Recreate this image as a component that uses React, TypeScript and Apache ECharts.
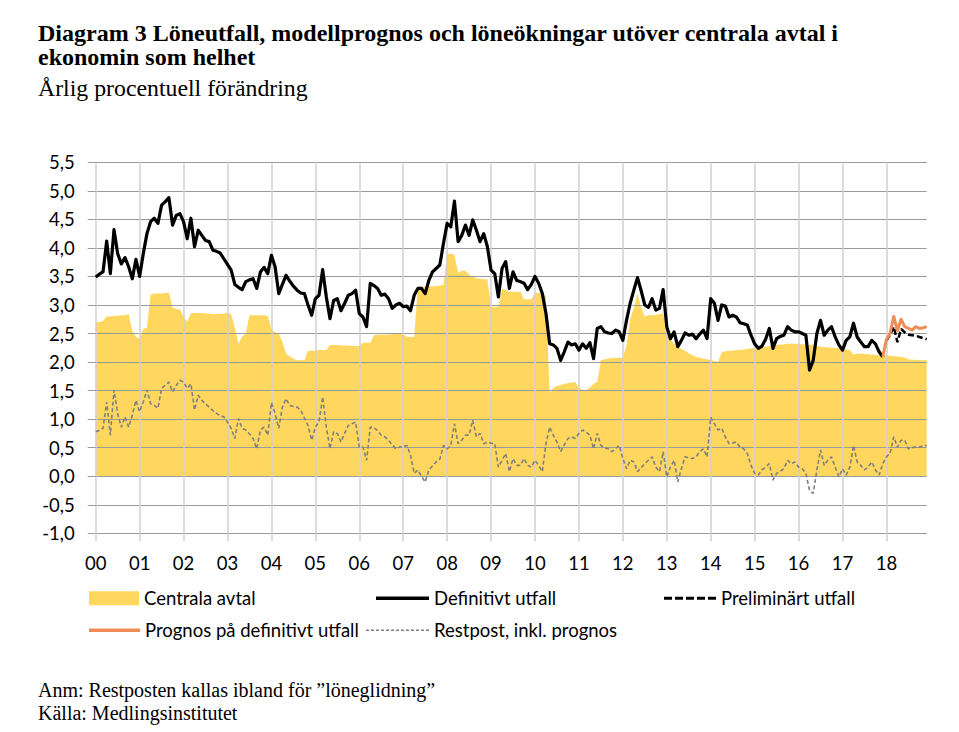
import React, { useEffect, useRef } from "react";
import * as echarts from "echarts";

// Monthly categories Jan 2000 .. Dec 2018
const firstYear = 2000;
const lastYear = 2018;
const months: string[] = [];
for (let y = firstYear; y <= lastYear; y++) {
  for (let m = 1; m <= 12; m++) months.push(`${y}-${m < 10 ? "0" + m : m}`);
}

const yearTickLabels = ["00", "01", "02", "03", "04", "05", "06", "07", "08", "09", "10", "11", "12", "13", "14", "15", "16", "17", "18"];

// Centrala avtal (yellow area), Jan 2000 - Dec 2018
const centralaAvtal = [
  2.70, 2.70, 2.72, 2.80, 2.80, 2.81, 2.81, 2.82, 2.82, 2.84, 2.55, 2.45,
  2.40, 2.58, 2.60, 3.18, 3.20, 3.20, 3.20, 3.21, 3.22, 2.95, 2.93, 2.92,
  2.80, 2.70, 2.86, 2.86, 2.86, 2.86, 2.85, 2.85, 2.84, 2.84, 2.84, 2.85,
  2.86, 2.84, 2.60, 2.32, 2.45, 2.50, 2.82, 2.82, 2.82, 2.82, 2.82, 2.81,
  2.58, 2.52, 2.50, 2.35, 2.15, 2.10, 2.06, 2.03, 2.03, 2.03, 2.20, 2.20,
  2.20, 2.21, 2.21, 2.21, 2.30, 2.30, 2.30, 2.29, 2.29, 2.29, 2.28, 2.28,
  2.28, 2.34, 2.34, 2.34, 2.47, 2.48, 2.48, 2.48, 2.48, 2.49, 2.49, 2.49,
  2.49, 2.44, 2.44, 2.44, 3.32, 3.32, 3.32, 3.33, 3.33, 3.33, 3.34, 3.35,
  3.88, 3.90, 3.88, 3.56, 3.60, 3.60, 3.53, 3.50, 3.47, 3.46, 3.45, 3.45,
  2.97, 2.97, 2.97, 3.29, 3.26, 3.23, 3.23, 3.23, 3.23, 3.10, 3.10, 3.10,
  3.21, 3.21, 3.21, 3.15, 1.45, 1.55, 1.58, 1.60, 1.62, 1.63, 1.64, 1.65,
  1.55, 1.51, 1.51, 1.55, 1.62, 1.65, 2.03, 2.05, 2.06, 2.07, 2.07, 2.08,
  2.07, 2.30, 2.75, 2.95, 3.20, 2.95, 2.80, 2.82, 2.82, 2.83, 2.84, 2.85,
  2.58, 2.40, 2.32, 2.27, 2.23, 2.20, 2.15, 2.12, 2.09, 2.08, 2.06, 2.05,
  2.03, 2.02, 2.00, 2.17, 2.19, 2.20, 2.20, 2.21, 2.21, 2.22, 2.23, 2.24,
  2.24, 2.25, 2.26, 2.27, 2.28, 2.29, 2.30, 2.31, 2.31, 2.32, 2.32, 2.32,
  2.32, 2.31, 2.31, 2.30, 2.30, 2.28, 2.27, 2.26, 2.26, 2.25, 2.25, 2.24,
  2.23, 2.22, 2.21, 2.13, 2.15, 2.15, 2.14, 2.14, 2.13, 2.13, 2.12, 2.12,
  2.12, 2.11, 2.10, 2.10, 2.09, 2.08, 2.05, 2.04, 2.04, 2.03, 2.03, 2.03,
];

// Definitivt utfall, Jan 2000 - Dec 2017
const definitivtUtfall = [
  3.49, 3.54, 3.58, 4.12, 3.55, 4.32, 3.90, 3.72, 3.83, 3.67, 3.46, 3.80,
  3.50, 3.90, 4.25, 4.46, 4.52, 4.43, 4.75, 4.81, 4.88, 4.40, 4.57, 4.60,
  4.46, 4.16, 4.52, 4.02, 4.31, 4.22, 4.13, 4.11, 3.96, 3.94, 3.91, 3.81,
  3.71, 3.61, 3.36, 3.31, 3.27, 3.41, 3.44, 3.46, 3.29, 3.58, 3.66, 3.55,
  3.87, 3.67, 3.20, 3.36, 3.52, 3.42, 3.33, 3.26, 3.21, 3.20, 3.00, 2.82,
  3.11, 3.17, 3.62, 3.14, 2.76, 3.08, 3.11, 2.90, 3.03, 3.17, 3.20, 3.26,
  2.85, 2.79, 2.62, 3.38, 3.34, 3.29, 3.17, 3.19, 3.11, 2.94, 3.00, 3.03,
  2.97, 2.98, 2.90, 3.17, 3.29, 3.29, 3.20, 3.43, 3.58, 3.64, 3.70, 4.08,
  4.43, 4.37, 4.82, 4.11, 4.22, 4.40, 4.22, 4.49, 4.31, 4.11, 4.25, 4.02,
  3.61, 3.55, 3.14, 3.64, 3.76, 3.29, 3.58, 3.43, 3.41, 3.38, 3.27, 3.36,
  3.50, 3.38, 3.20, 2.85, 2.32, 2.30, 2.24, 2.03, 2.18, 2.35, 2.30, 2.32,
  2.21, 2.32, 2.24, 2.34, 2.06, 2.59, 2.62, 2.53, 2.51, 2.50, 2.56, 2.53,
  2.38, 2.73, 3.03, 3.26, 3.48, 3.25, 3.00, 2.96, 3.11, 2.91, 2.94, 3.27,
  2.62, 2.41, 2.53, 2.27, 2.38, 2.51, 2.47, 2.49, 2.41, 2.49, 2.56, 2.41,
  3.11, 3.03, 2.73, 3.00, 2.98, 2.79, 2.82, 2.79, 2.69, 2.67, 2.65, 2.47,
  2.32, 2.24, 2.28, 2.40, 2.59, 2.24, 2.41, 2.45, 2.47, 2.62, 2.56, 2.53,
  2.53, 2.50, 2.47, 1.86, 2.03, 2.50, 2.73, 2.47, 2.56, 2.62, 2.44, 2.30,
  2.21, 2.38, 2.44, 2.68, 2.44, 2.35, 2.27, 2.27, 2.38, 2.32, 2.18, 2.09,
];

// Preliminärt utfall, Jan 2018 - Dec 2018
const preliminartStart = "2018-01";
const preliminartUtfall = [2.38, 2.48, 2.62, 2.35, 2.58, 2.52, 2.48, 2.47, 2.46, 2.44, 2.42, 2.40];

// Prognos på definitivt utfall, Dec 2017 - Dec 2018
const prognosStart = "2017-12";
const prognosDefinitivt = [2.09, 2.40, 2.50, 2.80, 2.55, 2.75, 2.62, 2.59, 2.56, 2.62, 2.59, 2.60, 2.62];

// Restpost, inkl. prognos, Jan 2000 - Dec 2018
const restpost = [
  0.78, 0.80, 0.84, 1.30, 0.72, 1.51, 1.10, 0.86, 1.04, 0.86, 1.07, 1.33,
  1.13, 1.30, 1.51, 1.27, 1.24, 1.19, 1.54, 1.59, 1.65, 1.48, 1.59, 1.68,
  1.65, 1.54, 1.62, 1.16, 1.42, 1.33, 1.27, 1.21, 1.15, 1.10, 1.06, 1.04,
  0.95, 0.84, 0.66, 1.01, 0.84, 0.81, 0.74, 0.66, 0.48, 0.81, 0.86, 0.72,
  1.29, 1.10, 0.84, 1.21, 1.36, 1.24, 1.22, 1.21, 1.16, 1.02, 0.89, 0.63,
  0.86, 0.95, 1.39, 0.86, 0.48, 0.78, 0.75, 0.60, 0.75, 0.89, 0.92, 0.95,
  0.51, 0.51, 0.28, 0.86, 0.85, 0.80, 0.72, 0.69, 0.63, 0.55, 0.48, 0.51,
  0.52, 0.54, 0.37, 0.05, 0.11, 0.00, -0.10, 0.11, 0.18, 0.25, 0.30, 0.54,
  0.48, 0.54, 0.92, 0.57, 0.63, 0.72, 0.72, 0.98, 0.69, 0.75, 0.57, 0.60,
  0.58, 0.57, 0.16, 0.28, 0.40, 0.08, 0.31, 0.19, 0.19, 0.31, 0.19, 0.16,
  0.28, 0.19, 0.08, 0.57, 0.86, 0.72, 0.60, 0.43, 0.55, 0.66, 0.69, 0.66,
  0.75, 0.81, 0.77, 0.72, 0.48, 0.75, 0.54, 0.50, 0.48, 0.43, 0.48, 0.54,
  0.31, 0.13, 0.28, 0.25, 0.08, 0.15, 0.22, 0.28, 0.34, 0.16, 0.08, 0.43,
  -0.01, 0.16, 0.28, -0.10, 0.13, 0.34, 0.32, 0.31, 0.34, 0.43, 0.48, 0.34,
  1.03, 0.92, 0.81, 0.84, 0.69, 0.57, 0.58, 0.60, 0.51, 0.48, 0.40, 0.19,
  0.05, 0.02, 0.11, 0.16, 0.22, -0.07, 0.05, 0.09, 0.13, 0.28, 0.22, 0.25,
  0.16, 0.13, 0.05, -0.25, -0.30, 0.11, 0.46, 0.19, 0.28, 0.34, 0.16, -0.01,
  0.13, 0.02, 0.16, 0.54, 0.25, 0.19, 0.11, 0.16, 0.25, 0.11, 0.02, 0.22,
  0.34, 0.40, 0.69, 0.51, 0.63, 0.63, 0.48, 0.50, 0.51, 0.51, 0.53, 0.54,
];

const titleText = "Diagram 3 Löneutfall, modellprognos och löneökningar utöver centrala avtal i\nekonomin som helhet";
const subtitleText = "Årlig procentuell förändring";
const noteText = "Anm: Restposten kallas ibland för ”löneglidning”\nKälla: Medlingsinstitutet";

const YELLOW = "#FFD75E";
const ORANGE = "#EF8C57";
const GRAY_DASH = "#7F7F7F";
const SANS = "Lato, 'Open Sans', sans-serif";
const SERIF = "'Liberation Serif', 'Times New Roman', serif";

function placeAt(values: number[], startKey: string): (number | null)[] {
  const start = months.indexOf(startKey);
  return months.map((_, i) => (i >= start && i - start < values.length ? values[i - start] : null));
}

// legend icon made of dashes (width x height), as an svg path
function dashIcon(count: number, dash: number, gap: number, h: number): string {
  let d = "path://";
  for (let k = 0; k < count; k++) {
    const x = k * (dash + gap);
    d += `M${x},0h${dash}v${h}h${-dash}z `;
  }
  return d.trim();
}

export default function App() {
  const ref = useRef<HTMLDivElement>(null);

  useEffect(() => {
    if (!ref.current) return;
    const chart = echarts.init(ref.current, null, { renderer: "svg" });
    const isYearStart = (i: number) => i % 12 === 0;
    const FS = 18.5;
    const legendText = { fontFamily: SANS, fontSize: FS, color: "#000" };
    const row1 = 598 - FS / 2;
    const row2 = 630 - FS / 2;
    const common = { padding: 0, selectedMode: false, textStyle: legendText, itemStyle: { borderWidth: 0 } };

    chart.setOption({
      animation: false,
      backgroundColor: "#fff",
      title: [
        {
          text: titleText,
          left: 38,
          top: 21,
          padding: 0,
          textStyle: { fontFamily: SERIF, fontWeight: "bold", fontSize: 24, lineHeight: 24, color: "#000" },
        },
        {
          text: subtitleText,
          left: 38,
          top: 76,
          padding: 0,
          textStyle: { fontFamily: SERIF, fontWeight: "normal", fontSize: 23.8, lineHeight: 24, color: "#000" },
        },
        {
          text: noteText,
          left: 38,
          top: 678.5,
          padding: 0,
          textStyle: { fontFamily: SERIF, fontWeight: "normal", fontSize: 20, lineHeight: 23, color: "#000" },
        },
      ],
      legend: [
        { ...common, data: [{ name: "Centrala avtal", icon: "rect" }], left: 89, top: row1, itemWidth: 50, itemHeight: 14 },
        { ...common, data: [{ name: "Definitivt utfall", icon: "rect" }], left: 376, top: row1, itemWidth: 53, itemHeight: 3.3 },
        { ...common, data: [{ name: "Preliminärt utfall", icon: dashIcon(5, 8, 3, 3) }], left: 664, top: row1, itemWidth: 52, itemHeight: 3 },
        { ...common, data: [{ name: "Prognos på definitivt utfall", icon: "rect" }], left: 89, top: row2, itemWidth: 51, itemHeight: 3.5 },
        { ...common, data: [{ name: "Restpost, inkl. prognos", icon: dashIcon(13, 3, 2, 1.5) }], left: 366, top: row2, itemWidth: 63, itemHeight: 1.5 },
      ],
      grid: { left: 95.7, right: 32.3, top: 162.3, bottom: 198.7, containLabel: false },
      xAxis: {
        type: "category",
        data: months,
        boundaryGap: false,
        z: 3,
        axisLine: { show: false, onZero: false },
        axisTick: { show: true, interval: (i: number) => isYearStart(i), length: 8, lineStyle: { color: "#d0d0d0", width: 1.5 } },
        axisLabel: {
          interval: (i: number) => isYearStart(i),
          formatter: (_v: string, i: number) => yearTickLabels[Math.floor(i / 12)],
          fontFamily: SANS,
          fontSize: FS,
          color: "#000",
          margin: 20,
        },
        splitLine: { show: true, interval: (i: number) => isYearStart(i), lineStyle: { color: "#d0d0d0", width: 1.5 } },
      },
      yAxis: {
        type: "value",
        min: -1,
        max: 5.5,
        interval: 0.5,
        z: 3,
        axisLine: { show: false },
        axisTick: { show: true, length: 8, lineStyle: { color: "#9a9a9a" } },
        axisLabel: {
          formatter: (v: number) => v.toFixed(1).replace(".", ","),
          fontFamily: SANS,
          fontSize: FS,
          color: "#000",
          margin: 21,
        },
        splitLine: { show: true, lineStyle: { color: "#9a9a9a", width: 1 } },
      },
      series: [
        {
          name: "Centrala avtal",
          type: "line",
          data: centralaAvtal,
          symbol: "none",
          z: 1,
          color: YELLOW,
          itemStyle: { color: YELLOW },
          lineStyle: { width: 0, color: YELLOW },
          areaStyle: { color: YELLOW, opacity: 1 },
        },
        {
          name: "Restpost, inkl. prognos",
          type: "line",
          data: restpost,
          symbol: "none",
          z: 4,
          color: GRAY_DASH,
          itemStyle: { color: GRAY_DASH },
          lineStyle: { width: 1.6, color: GRAY_DASH, type: [4, 2.5] },
        },
        {
          name: "Definitivt utfall",
          type: "line",
          data: months.map((_, i) => (i < definitivtUtfall.length ? definitivtUtfall[i] : null)),
          symbol: "none",
          z: 5,
          color: "#000",
          itemStyle: { color: "#000" },
          lineStyle: { width: 3.2, color: "#000", join: "round" },
        },
        {
          name: "Preliminärt utfall",
          type: "line",
          data: placeAt(preliminartUtfall, preliminartStart),
          symbol: "none",
          z: 6,
          color: "#000",
          itemStyle: { color: "#000" },
          lineStyle: { width: 2.5, color: "#000", type: [6, 3] },
        },
        {
          name: "Prognos på definitivt utfall",
          type: "line",
          data: placeAt(prognosDefinitivt, prognosStart),
          symbol: "none",
          z: 7,
          color: ORANGE,
          itemStyle: { color: ORANGE },
          lineStyle: { width: 3, color: ORANGE, join: "round" },
        },
      ],
    });

    return () => chart.dispose();
  }, []);

  return (
    <div
      ref={ref}
      style={{ position: "absolute", left: 0, top: 0, width: 959, height: 732, background: "#fff" }}
    />
  );
}
